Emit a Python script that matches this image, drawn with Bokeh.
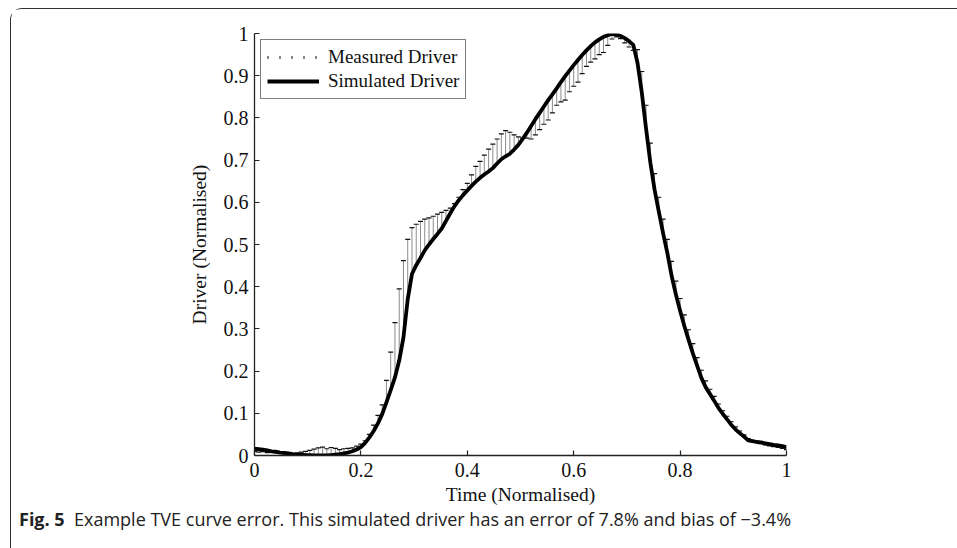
import numpy as np
from bokeh.plotting import figure
from bokeh.models import Range1d, FixedTicker, Legend, LegendItem, Div, ColumnDataSource
from bokeh.layouts import column
from bokeh.embed import file_html
from bokeh.resources import INLINE

# ---- data ----
time_norm = np.round(np.arange(126) * 0.008, 3)

simulated_driver = [
    0.016, 0.015, 0.014, 0.012, 0.010, 0.009, 0.007, 0.006, 0.005, 0.003,
    0.002, 0.002, 0.001, 0.001, 0.000, 0.000, 0.000, 0.000, 0.001, 0.002,
    0.003, 0.005, 0.007, 0.010, 0.014, 0.020, 0.030, 0.043, 0.058, 0.076,
    0.098, 0.126, 0.155, 0.185, 0.225, 0.280, 0.370, 0.430, 0.451, 0.468,
    0.486, 0.500, 0.513, 0.525, 0.538, 0.556, 0.574, 0.591, 0.605, 0.617,
    0.628, 0.639, 0.649, 0.658, 0.666, 0.673, 0.681, 0.692, 0.702, 0.709,
    0.715, 0.725, 0.736, 0.750, 0.765, 0.781, 0.797, 0.812, 0.827, 0.842,
    0.856, 0.870, 0.885, 0.899, 0.912, 0.925, 0.937, 0.949, 0.960, 0.970,
    0.979, 0.986, 0.992, 0.996, 0.999, 0.998, 0.994, 0.989, 0.982, 0.973,
    0.930, 0.860, 0.775, 0.695, 0.630, 0.578, 0.527, 0.480, 0.426, 0.382,
    0.343, 0.307, 0.274, 0.242, 0.213, 0.184, 0.162, 0.146, 0.130, 0.113,
    0.099, 0.086, 0.073, 0.062, 0.053, 0.045, 0.036, 0.034, 0.032, 0.031,
    0.029, 0.027, 0.025, 0.024, 0.022, 0.020,
]

measured_driver = [
    0.010, 0.008, 0.009, 0.007, 0.008, 0.006, 0.005, 0.004, 0.005, 0.004,
    0.006, 0.008, 0.010, 0.012, 0.015, 0.018, 0.020, 0.016, 0.019, 0.017,
    0.014, 0.016, 0.017, 0.018, 0.022, 0.027, 0.035, 0.050, 0.072, 0.095,
    0.120, 0.178, 0.245, 0.315, 0.395, 0.462, 0.512, 0.540, 0.548, 0.555,
    0.560, 0.563, 0.567, 0.572, 0.576, 0.581, 0.586, 0.597, 0.612, 0.630,
    0.645, 0.665, 0.685, 0.697, 0.712, 0.726, 0.738, 0.750, 0.762, 0.770,
    0.766, 0.760, 0.755, 0.752, 0.752, 0.750, 0.760, 0.772, 0.785, 0.795,
    0.812, 0.830, 0.838, 0.842, 0.862, 0.875, 0.885, 0.905, 0.922, 0.932,
    0.940, 0.950, 0.955, 0.972, 0.987, 0.992, 0.988, 0.978, 0.968, 0.960,
    0.962, 0.910, 0.830, 0.740, 0.668, 0.612, 0.560, 0.512, 0.460, 0.413,
    0.372, 0.333, 0.298, 0.265, 0.232, 0.202, 0.177, 0.157, 0.140, 0.122,
    0.106, 0.093, 0.080, 0.068, 0.058, 0.049, 0.040, 0.036, 0.031, 0.028,
    0.025, 0.023, 0.021, 0.019, 0.017, 0.014,
]

x_ticks = [0, 0.2, 0.4, 0.6, 0.8, 1]
x_tick_labels = ["0", "0.2", "0.4", "0.6", "0.8", "1"]
y_ticks = [0, 0.1, 0.2, 0.3, 0.4, 0.5, 0.6, 0.7, 0.8, 0.9, 1]
y_tick_labels = ["0", "0.1", "0.2", "0.3", "0.4", "0.5", "0.6", "0.7", "0.8", "0.9", "1"]

legend_labels = ["Measured Driver", "Simulated Driver"]
x_label = "Time (Normalised)"
y_label = "Driver (Normalised)"
caption_bold = "Fig. 5"
caption_text = "Example TVE curve error. This simulated driver has an error of 7.8% and bias of \u22123.4%"

# ---- figure ----
SERIF = "Liberation Serif"
src = ColumnDataSource(dict(x=time_norm, sim=simulated_driver, meas=measured_driver))

p = figure(width=940, height=502, x_range=Range1d(0, 1), y_range=Range1d(0, 1),
           output_backend="svg", toolbar_location=None,
           min_border_left=243, min_border_right=165, min_border_top=24, min_border_bottom=56)
p.outline_line_color = None
p.grid.visible = False
p.background_fill_color = "white"
p.border_fill_color = "white"

# error stems between simulated and measured values
p.segment(x0="x", y0="sim", x1="x", y1="meas", source=src, line_color="#8c8c8c", line_width=1)
# caps at measured values
p.scatter(x="x", y="meas", source=src, marker="dash", size=5, line_color="#111111", line_width=1.2)
# legend proxy for measured driver (dotted) - no visible data
meas_proxy = p.line(x=[np.nan], y=[np.nan], line_color="#111111", line_width=3, line_dash="1 11")
# simulated driver thick line
sim_r = p.line(x="x", y="sim", source=src, line_color="black", line_width=3.8, line_join="round")

for ax, ticks, labels in ((p.xaxis[0], x_ticks, x_tick_labels), (p.yaxis[0], y_ticks, y_tick_labels)):
    ax.ticker = FixedTicker(ticks=ticks)
    ax.major_label_overrides = {t: l for t, l in zip(ticks, labels)}
    ax.minor_tick_line_color = None
    ax.major_tick_in = 5
    ax.major_tick_out = 0
    ax.axis_line_color = "#222222"
    ax.axis_line_width = 1.3
    ax.major_tick_line_color = "#222222"
    ax.major_tick_line_width = 1.2
    ax.major_label_text_font = SERIF
    ax.major_label_text_font_size = "20px"
    ax.major_label_text_color = "#111111"
    ax.axis_label_text_font = SERIF
    ax.axis_label_text_font_size = "19.5px"
    ax.axis_label_text_font_style = "normal"
    ax.axis_label_text_color = "#111111"

p.xaxis[0].axis_label = x_label
p.yaxis[0].axis_label = y_label
p.xaxis[0].major_label_standoff = 7
p.xaxis[0].axis_label_standoff = 4
p.yaxis[0].major_label_standoff = 6
p.yaxis[0].axis_label_standoff = 11

legend = Legend(items=[LegendItem(label=legend_labels[0], renderers=[meas_proxy]),
                       LegendItem(label=legend_labels[1], renderers=[sim_r])],
                location="top_left", margin=6, padding=6, spacing=2,
                glyph_width=52, glyph_height=20, label_height=20, label_standoff=9,
                border_line_color="black", border_line_width=1.6,
                background_fill_color="white", background_fill_alpha=1,
                label_text_font=SERIF, label_text_font_size="19px", label_text_color="#111111")
p.add_layout(legend)

caption = Div(text=('<div style="font-family:\'Open Sans\'; font-size:18px; color:#222; white-space:nowrap; '
                    'line-height:20px; padding-left:3px;"><b>' + caption_bold + '</b>&nbsp; ' + caption_text + '</div>'),
              width=940, height=30, styles={"position": "relative", "top": "-7px"})

layout = column(p, caption, spacing=0,
                styles={"border-top": "1.5px solid #333", "border-left": "1.5px solid #333",
                        "border-top-left-radius": "12px", "background": "white",
                        "position": "relative", "left": "10px", "top": "7.5px"})

open("out.html", "w").write(file_html(layout, INLINE))
